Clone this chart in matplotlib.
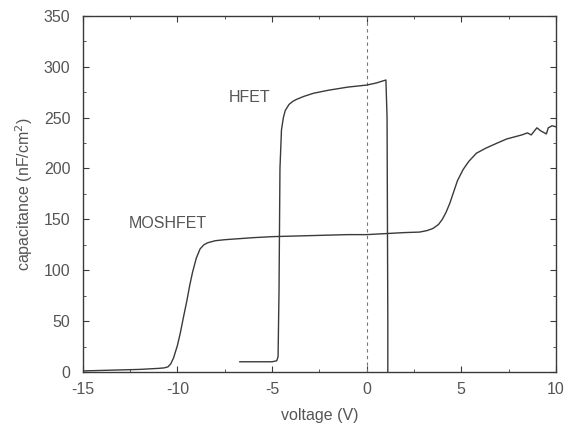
import numpy as np
import matplotlib
matplotlib.use('Agg')
from matplotlib import pyplot as plt
from matplotlib.ticker import MultipleLocator

# MOSHFET C-V curve (voltage in V, capacitance in nF/cm^2)
mos_v = [-15, -14, -13, -12, -11.5, -11, -10.7, -10.5, -10.35, -10.2, -10.0, -9.85, -9.7,
         -9.5, -9.35, -9.2, -9.0, -8.8, -8.6, -8.4, -8.0, -7.5, -6, -5, -3, -1, 0, 1, 2,
         2.8, 3.2, 3.5, 3.8, 4.0, 4.2, 4.4, 4.6, 4.8, 5.1, 5.4, 5.8, 6.3, 6.9, 7.4, 7.8,
         8.2, 8.5, 8.7, 9.0, 9.2, 9.5, 9.6, 9.8, 10.0]
mos_c = [1, 1.5, 2, 2.5, 3, 3.5, 4, 5, 8, 14, 26, 38, 52,
         70, 85, 98, 112, 121, 125, 127, 129, 130, 132, 133, 134, 135, 135, 136, 137,
         137.5, 139, 141, 145, 150, 157, 166, 177, 188, 199, 207, 215, 220, 225, 229, 231,
         233, 235, 233, 240, 237, 234, 240, 242, 241]

# HFET C-V curve
hfet_v = [-6.7, -6.0, -5.5, -5.0, -4.75, -4.68, -4.63, -4.58, -4.5, -4.4, -4.3, -4.1,
          -3.9, -3.7, -3.3, -2.8, -2.0, -1.0, 0.0, 0.5, 1.02, 1.08, 1.1, 1.12, 1.12]
hfet_c = [10, 10, 10, 10, 11, 15, 80, 200, 238, 250, 257, 263,
          266, 268, 271, 274, 277, 280, 282, 284, 287, 250, 150, 50, 0]

plt.rcParams['font.family'] = ['Liberation Sans', 'DejaVu Sans']
plt.rcParams['axes.unicode_minus'] = False
txt = '#555555'
ink = '#3a3a3a'
fs = 11.5

fig = plt.figure(figsize=(5.79, 4.30), dpi=100)
ax = fig.add_axes([0.143, 0.135, 0.817, 0.828])

ax.axvline(0, color='#777777', lw=0.8, ls=(0, (3, 3)))
ax.plot(mos_v, mos_c, color=ink, lw=1.0)
ax.plot(hfet_v, hfet_c, color=ink, lw=1.0)

ax.text(-6.2, 270, 'HFET', color=txt, fontsize=fs, ha='center', va='center')
ax.text(-10.5, 146, 'MOSHFET', color=txt, fontsize=fs, ha='center', va='center')

ax.set_xlim(-15, 10)
ax.set_ylim(0, 350)
ax.xaxis.set_major_locator(MultipleLocator(5))
ax.xaxis.set_minor_locator(MultipleLocator(2.5))
ax.yaxis.set_major_locator(MultipleLocator(50))
ax.yaxis.set_minor_locator(MultipleLocator(25))
ax.tick_params(which='both', direction='in', top=True, right=True,
               colors=ink, labelcolor=txt, labelsize=fs)
ax.tick_params(axis='x', which='major', pad=7)
ax.tick_params(axis='y', which='major', pad=9)
ax.tick_params(which='major', length=4)
ax.tick_params(which='minor', length=2.5)
for s in ax.spines.values():
    s.set_color(ink)
    s.set_linewidth(1.0)

ax.set_xlabel('voltage (V)', color=txt, fontsize=fs, labelpad=8)
ax.set_ylabel('capacitance (nF/cm$^2$)', color=txt, fontsize=fs, labelpad=6)

fig.savefig('out.png', dpi=100)
